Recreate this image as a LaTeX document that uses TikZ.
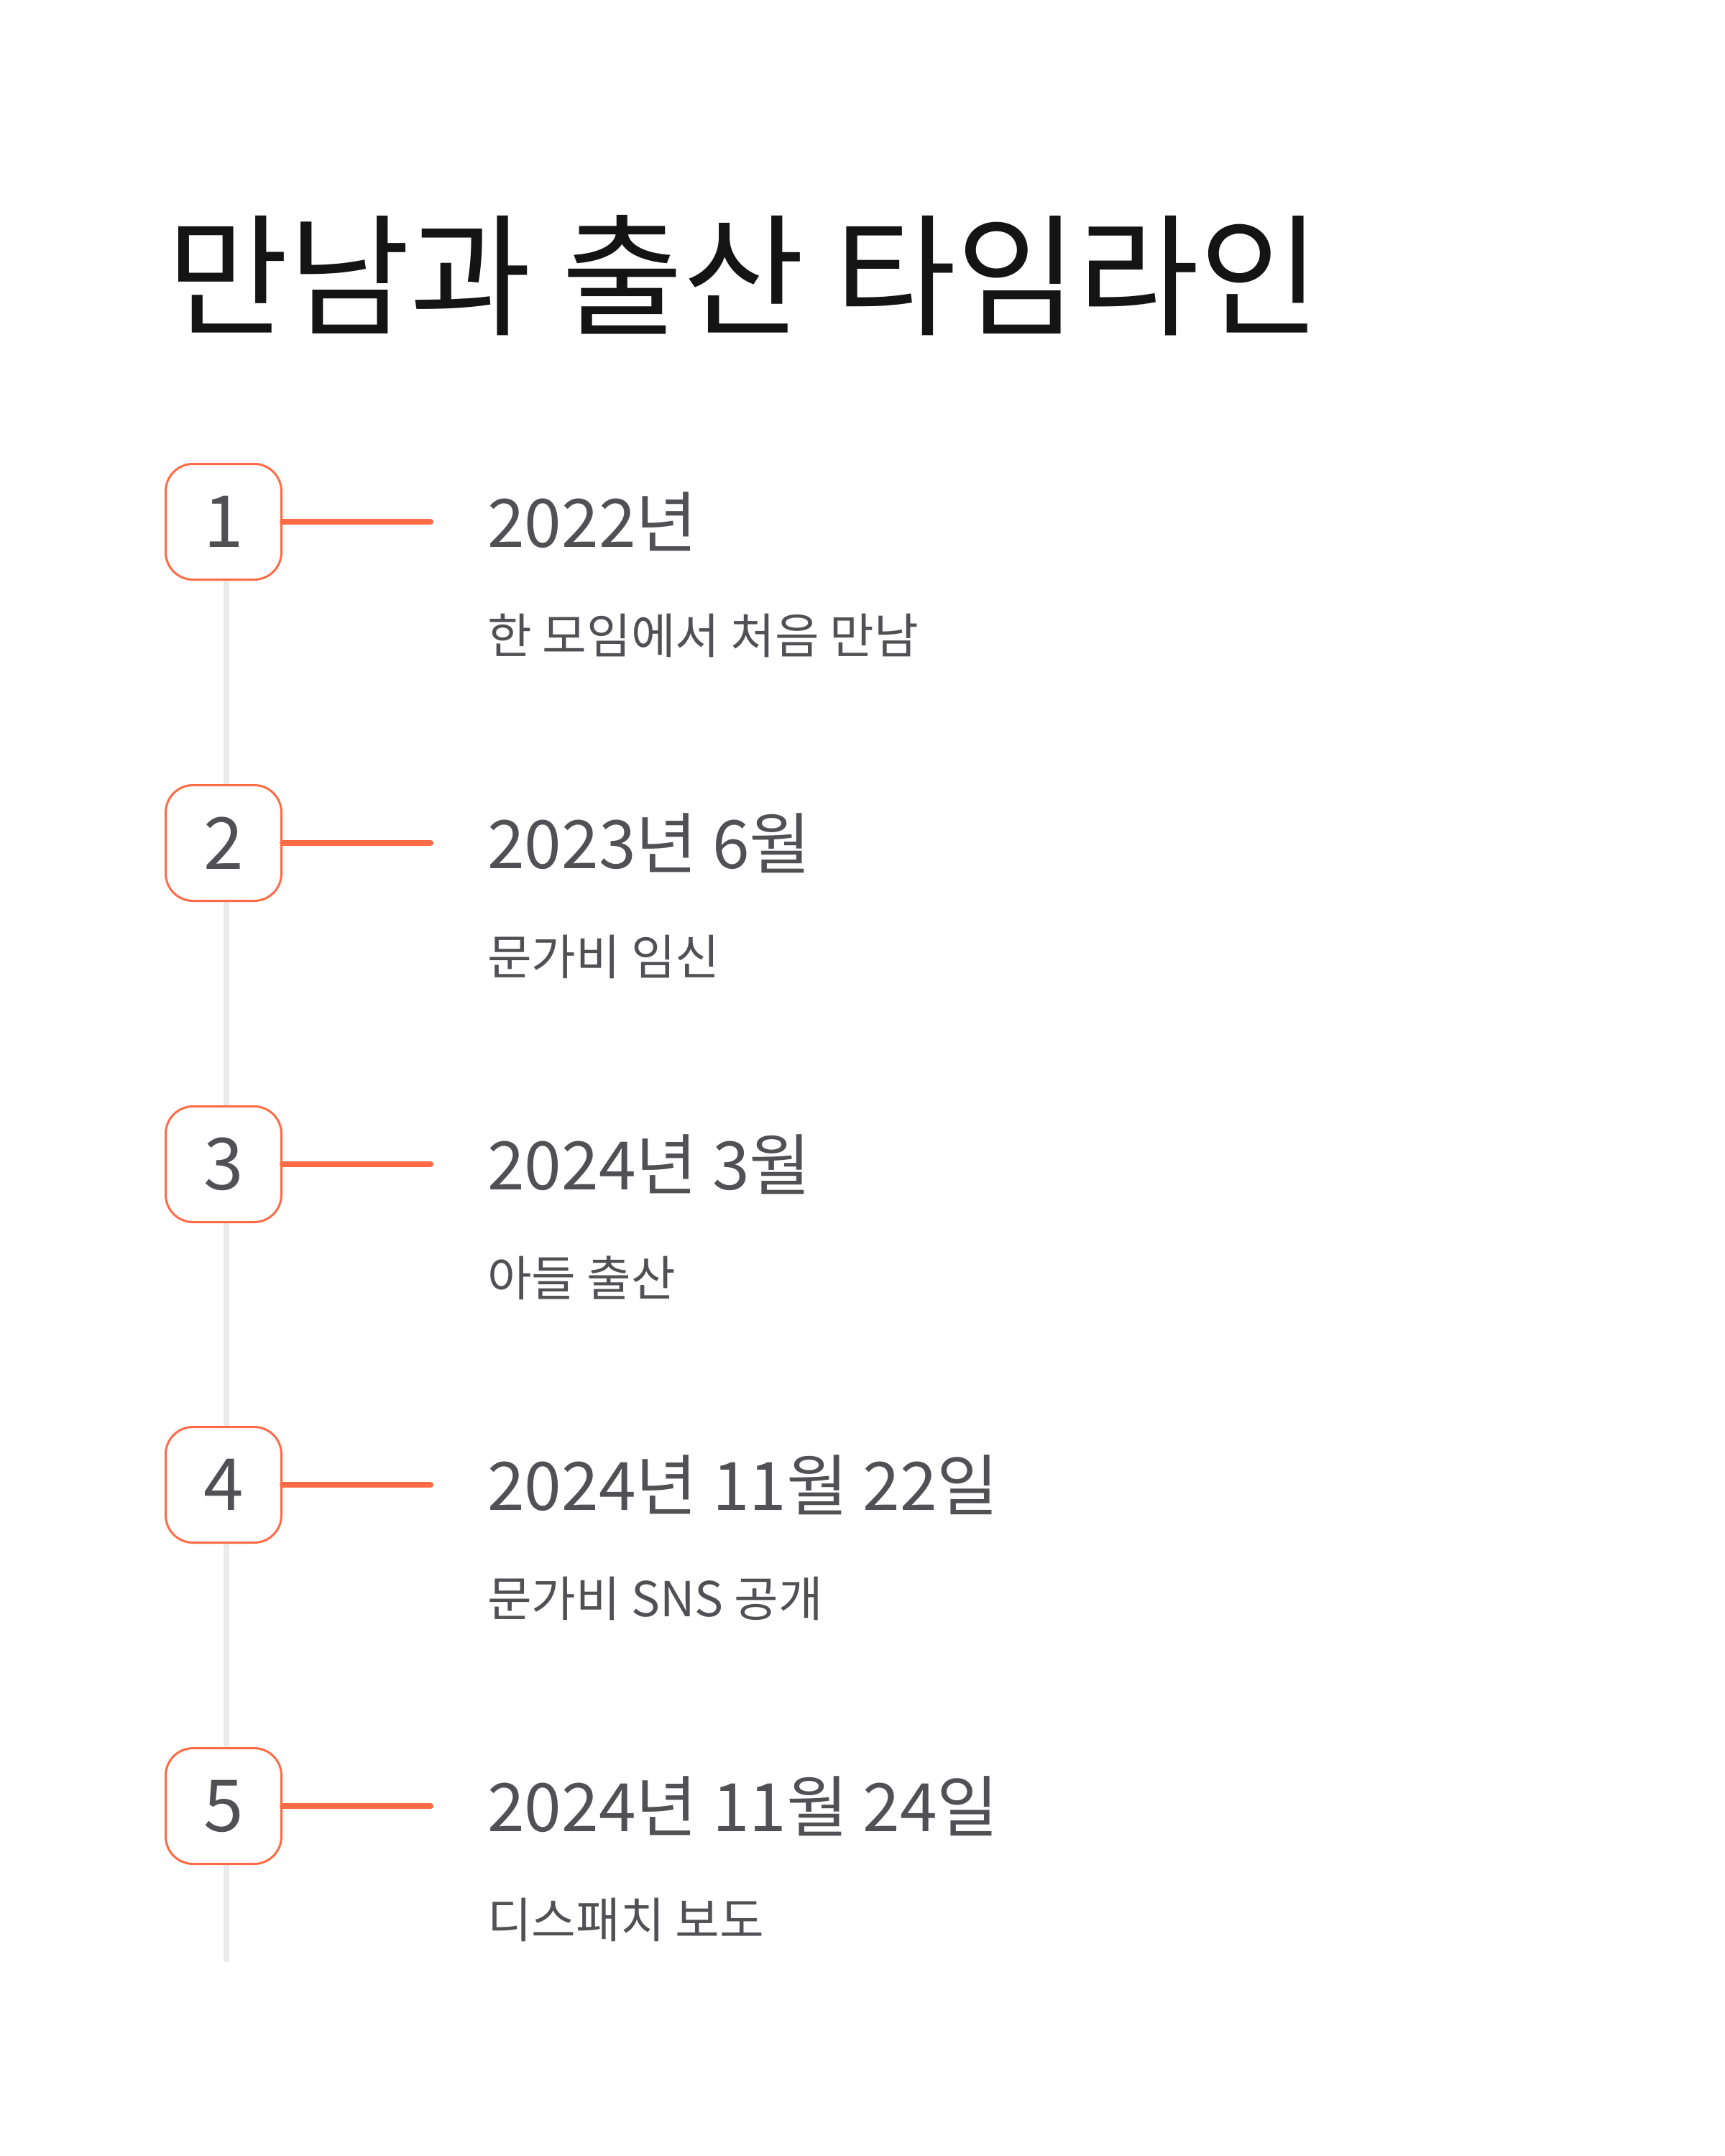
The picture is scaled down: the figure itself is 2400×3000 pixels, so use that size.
\documentclass[tikz,border=0pt]{standalone}
\usepackage{fontspec}
\setmainfont{Noto Sans CJK KR}
\definecolor{orng}{HTML}{FF6B45}
\definecolor{txt}{HTML}{505055}
\definecolor{rail}{HTML}{EBEBEB}
\begin{document}
\begin{tikzpicture}[x=1pt,y=-1pt,
  numbox/.style={draw=orng,line width=3pt,rounded corners=38pt,minimum width=161pt,minimum height=161pt,fill=white,text=txt,font=\fontsize{100}{110}\selectfont,inner sep=0pt},
  datetxt/.style={anchor=west,text=txt,font=\fontsize{93}{100}\selectfont,inner sep=0pt},
  subtxt/.style={anchor=west,text=txt,font=\fontsize{67}{72}\selectfont,inner sep=0pt},
  conn/.style={draw=orng,line width=8pt,line cap=round}]
\useasboundingbox[fill=white] (0,0) rectangle (2400,3000);
\node[anchor=base west,inner sep=0pt,font=\fontsize{184}{190}\selectfont,text=black!92] (title) at (232,452) {만남과 출산 타임라인};
\coordinate (railtop) at (315,805);
\coordinate (railbot) at (315,2730);
\draw[rail,line width=8pt] (railtop) -- (railbot);
\foreach \i/\y/\d/\s in {1/726/2022년/한 모임에서 처음 만남,2/1173/2023년 6월/문가비 임신,3/1620/2024년 3월/아들 출산,4/2066/2024년 11월 22일/문가비 SNS 공개,5/2513/2024년 11월 24일/디스패치 보도}{
  \node[numbox] (b\i) at (311,\y) {\i};
  \coordinate (e\i) at (599,\y);
  \draw[conn] (b\i.east) -- (e\i);
  \node[datetxt] (d\i) at (678,\y) {\d};
  \node[subtxt] (s\i) at (678,\y+158) {\s};
}
\end{tikzpicture}
\end{document}
